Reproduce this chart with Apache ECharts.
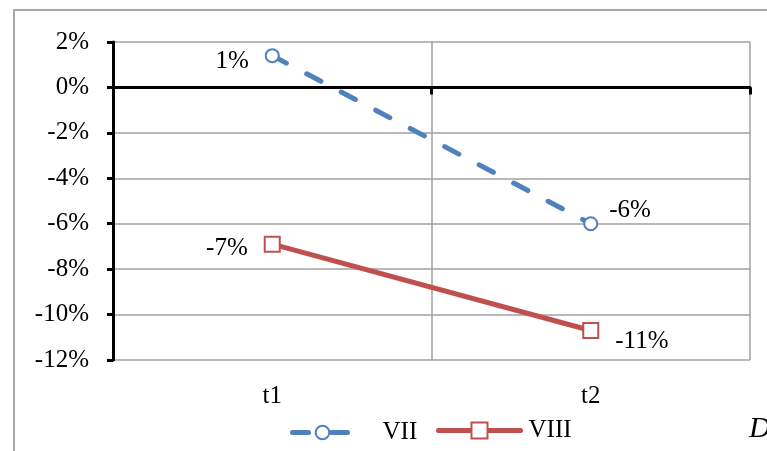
<!DOCTYPE html>
<html>
<head>
<meta charset="utf-8">
<script src="https://cdn.jsdelivr.net/npm/echarts@6/dist/echarts.min.js"></script>
<style>
  html, body { margin: 0; padding: 0; background: #fff; }
  #chart { width: 767px; height: 451px; }
</style>
</head>
<body>
<div id="chart"></div>
<script>
// Periods on the category axis
const periods = ['t1', 't2'];
// Percentage change per group (in %)
const seriesVII = [1.4, -6.0];
const seriesVIII = [-6.9, -10.7];
// Value-axis range and step (in %)
const yMin = -12;
const yMax = 2;
const yStep = 2;

const FONT = "'Liberation Serif', 'Times New Roman', serif";
const BLUE = '#4F81BD';
const RED = '#C0504D';
const GRID = '#a0a0a0';

// label placement for each point: [position, offsetX, offsetY]
const placeVII = [['left', 0, 6], ['right', -5, -13]];
const placeVIII = [['left', 0, 4], ['right', 0, 11]];

function pointsWithLabels(values, place) {
  return values.map((v, i) => ({
    value: v,
    label: {
      position: place[i][0],
      offset: [place[i][1], place[i][2]]
    }
  }));
}

const chart = echarts.init(document.getElementById('chart'), null, { renderer: 'canvas' });

chart.setOption({
  backgroundColor: '#fff',
  animation: false,
  textStyle: { fontFamily: FONT },
  grid: { left: 113, right: 17, top: 42, bottom: 91 },
  graphic: [
    {
      type: 'rect',
      shape: { x: 14, y: 10, width: 800, height: 500 },
      style: { fill: 'none', stroke: '#a8a8a8', lineWidth: 2 },
      silent: true
    },
    {
      type: 'text',
      left: 749,
      top: 414,
      style: { text: 'D', font: 'italic 30px ' + FONT, fill: '#000' },
      silent: true
    }
  ],
  legend: [
    {
      left: 290, top: 420, padding: 0,
      itemWidth: 60, itemHeight: 17,
      data: ['VII'],
      lineStyle: { width: 5, cap: 'round' },
      textStyle: { fontFamily: FONT, fontSize: 25, color: '#000', padding: [0, 0, 0, 25] }
    },
    {
      left: 436, top: 418, padding: 0,
      itemWidth: 82, itemHeight: 20,
      data: ['VIII'],
      lineStyle: { width: 5, cap: 'round' },
      textStyle: { fontFamily: FONT, fontSize: 25, color: '#000', padding: [0, 0, 0, 3] }
    }
  ],
  xAxis: [
    {
      // axis line through zero with tick marks
      type: 'category',
      data: periods,
      boundaryGap: true,
      axisLine: { show: true, onZero: true, lineStyle: { color: '#000', width: 3 } },
      axisTick: { show: true, length: 7, interval: 0, lineStyle: { color: '#000', width: 3 } },
      axisLabel: { show: false },
      splitLine: { show: false }
    },
    {
      // category labels and vertical gridlines along the bottom
      type: 'category',
      data: periods,
      position: 'bottom',
      boundaryGap: true,
      axisLine: { show: false, onZero: false },
      axisTick: { show: false },
      axisLabel: { show: true, margin: 24, fontSize: 25, fontFamily: FONT, color: '#000' },
      splitLine: { show: true, interval: 0, lineStyle: { color: GRID, width: 1.5 } }
    }
  ],
  yAxis: {
    type: 'value',
    min: yMin,
    max: yMax,
    interval: yStep,
    axisLine: { show: true, onZero: false, lineStyle: { color: '#000', width: 3 } },
    axisTick: { show: true, length: 6, lineStyle: { color: '#000', width: 3 } },
    axisLabel: {
      margin: 24,
      fontSize: 25,
      fontFamily: FONT,
      color: '#000',
      formatter: v => v + '%'
    },
    splitLine: { show: true, lineStyle: { color: GRID, width: 1.5 } }
  },
  series: [
    {
      name: 'VII',
      type: 'line',
      xAxisIndex: 0,
      data: pointsWithLabels(seriesVII, placeVII),
      symbol: 'circle',
      symbolSize: 13,
      z: 3,
      lineStyle: { color: BLUE, width: 5, type: [16, 23], cap: 'round' },
      itemStyle: { color: '#fff', borderColor: BLUE, borderWidth: 2 },
      label: {
        show: true,
        fontSize: 25,
        fontFamily: FONT,
        color: '#000',
        distance: 16,
        formatter: p => Math.round(p.value) + '%'
      }
    },
    {
      name: 'VIII',
      type: 'line',
      xAxisIndex: 0,
      data: pointsWithLabels(seriesVIII, placeVIII),
      symbol: 'rect',
      symbolSize: 15,
      z: 3,
      lineStyle: { color: RED, width: 5, type: 'solid' },
      itemStyle: { color: '#fff', borderColor: RED, borderWidth: 2 },
      label: {
        show: true,
        fontSize: 25,
        fontFamily: FONT,
        color: '#000',
        distance: 16,
        formatter: p => Math.round(p.value) + '%'
      }
    }
  ]
});
</script>
</body>
</html>
